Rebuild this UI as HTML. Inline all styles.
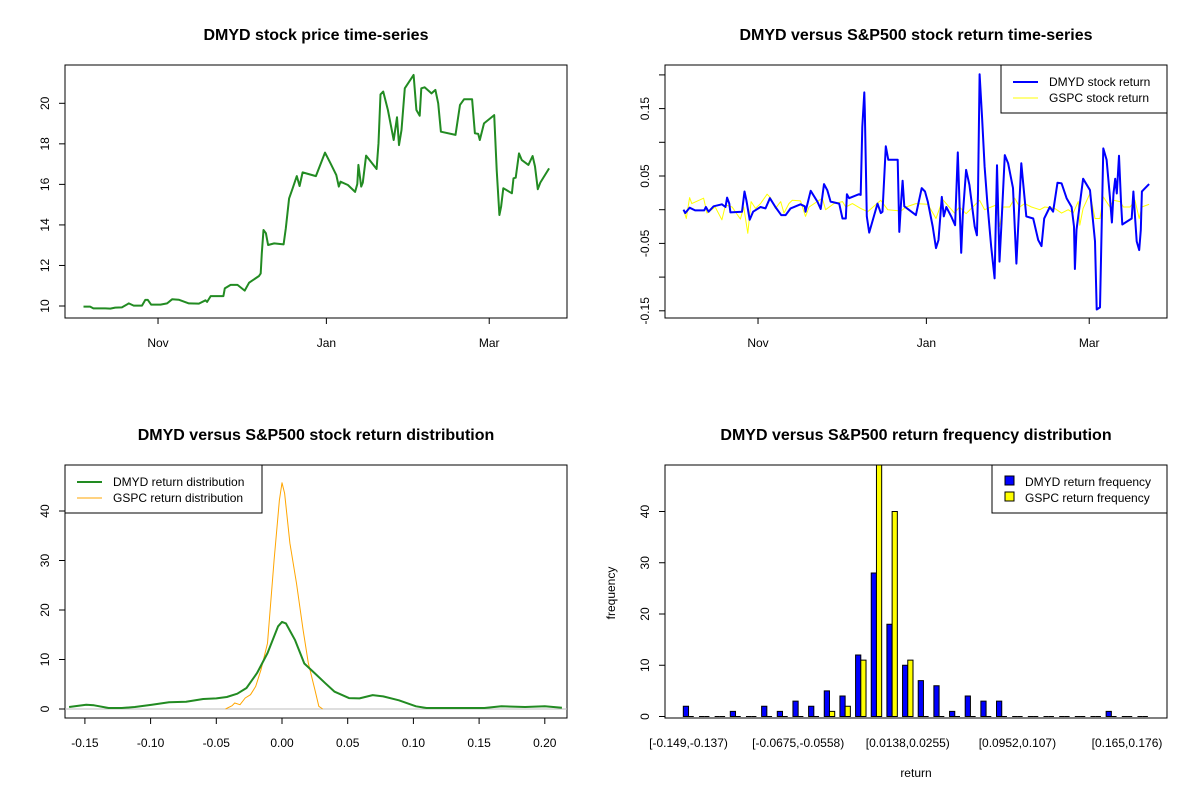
<!DOCTYPE html>
<html><head><meta charset="utf-8">
<style>
body{margin:0;background:#fff;}
svg{display:block;font-family:"Liberation Sans",Arial,sans-serif;}
.t{font-size:16px;font-weight:bold;text-anchor:middle;}
.l{font-size:12px;}
</style></head>
<body>
<svg id="c" width="1200" height="800" viewBox="0 0 1200 800" xmlns="http://www.w3.org/2000/svg">
<rect width="1200" height="800" fill="#fff"/>
<text class="t" x="316" y="40">DMYD stock price time-series</text>
<text class="t" x="916" y="40">DMYD versus S&amp;P500 stock return time-series</text>
<text class="t" x="316" y="440">DMYD versus S&amp;P500 stock return distribution</text>
<text class="t" x="916" y="440">DMYD versus S&amp;P500 return frequency distribution</text>
<g id="g1"></g>
<g id="g2"></g>
<g id="g3"></g>
<g id="g4"></g>
</svg>
<script>
// ---- data: days since 2020-10-05 ----
const priceDays=[0,2.4,3.6,7.9,9.7,11.5,13.9,16.4,18.2,21.2,22.4,23.3,24.5,27.9,30.3,32.1,34.5,38.2,41.8,44.2,44.8,46.1,50.7,51.2,53.3,55.8,58.4,60.0,63.6,64.2,64.6,65.2,66.1,66.9,69.1,72.5,73.3,74.5,75.8,77.3,78.3,79.4,84.2,87.5,89.5,91.6,92.5,93.1,95.8,98.4,99.2,99.6,100.6,101.2,102.4,106.2,106.9,107.6,108.6,110.3,112.4,113.6,114.3,115.2,116.4,119.6,120.6,121.8,122.4,123.6,126.1,127.5,128.5,129.5,134.8,136.4,137.9,140.8,141.8,143.0,143.6,144.5,145.1,148.8,149.7,150.7,151.3,152.1,155.2,155.8,156.6,157.8,158.8,161.2,162.7,163.6,164.6,165.5,168.7];
const priceVals=[9.97,9.97,9.88,9.88,9.87,9.92,9.93,10.13,10.02,10.02,10.30,10.30,10.07,10.07,10.13,10.33,10.31,10.13,10.12,10.28,10.20,10.49,10.49,10.87,11.04,11.04,10.76,11.15,11.48,11.61,12.60,13.75,13.59,13.01,13.09,13.04,13.83,15.31,15.81,16.41,15.92,16.59,16.41,17.57,17.04,16.46,15.89,16.13,15.97,15.63,16.02,16.96,15.89,16.09,17.42,16.76,18.03,20.44,20.58,19.67,18.19,19.31,17.94,18.68,20.74,21.40,19.67,19.39,20.74,20.79,20.49,20.66,20.0,18.60,18.44,19.92,20.20,20.20,18.52,18.49,18.19,18.68,19.01,19.42,16.71,14.49,14.90,15.81,15.56,16.30,16.33,17.53,17.20,16.96,17.40,16.88,15.76,16.09,16.79];
const dateTickDays=[27,88,147];
const dateTickLabels=["Nov","Jan","Mar"];
const priceTicks=[10,12,14,16,18,20];

const dmydDays=[0,0.6,2.2,4.2,7.5,8.1,9.1,10.9,13.9,15.2,15.8,16.6,17.0,21.2,22.1,22.8,24.0,25.2,27.9,29.7,31.3,33.3,35.4,37.0,38.8,42.4,43.9,44.2,46.1,48.5,49.7,50.9,52.1,53.3,56.4,57.6,58.8,59.2,60.0,63.6,64.2,64.8,65.5,65.7,66.4,67.3,70.3,71.5,72.1,73.3,74.2,77.6,78.2,78.8,79.4,80.0,84.2,86.3,87.5,88.5,90.3,91.5,92.4,93.6,94.3,95.2,97.0,98.4,99.4,100.6,101.2,102.4,103.6,105.5,106.3,106.7,107.3,108.2,109.1,110.1,111.5,112.7,113.6,114.5,115.2,116.4,117.6,119.4,120.6,122.4,123.0,124.2,126.7,128.5,129.7,130.7,132.7,133.9,135.5,137.0,138.8,140.6,141.5,141.8,142.4,144.8,147.3,149.1,149.7,150.9,152.1,153.3,154.5,155.2,155.8,156.4,157.0,157.8,158.5,159.0,162.4,163.0,163.6,164.2,165.1,165.7,166.1,168.7];
const dmydRet=[0.000,-0.005,0.003,-0.001,-0.001,0.004,-0.003,0.005,0.008,0.004,0.018,0.009,-0.004,-0.003,0.027,0.014,-0.015,-0.003,0.004,0.002,0.017,0.004,-0.008,-0.008,0.002,0.008,0.005,-0.003,0.028,0.012,0.001,0.038,0.029,0.012,0.009,-0.013,-0.013,0.023,0.017,0.023,0.022,0.123,0.174,0.148,-0.010,-0.034,0.009,-0.005,-0.003,0.094,0.074,0.074,-0.033,0.009,0.043,0.005,-0.008,0.032,0.027,0.012,-0.025,-0.057,-0.045,0.019,-0.010,0.004,-0.010,-0.023,0.085,-0.064,-0.008,0.059,0.037,-0.025,-0.038,0.024,0.201,0.136,0.064,0.009,-0.055,-0.102,0.066,-0.077,-0.020,0.081,0.069,0.032,-0.080,0.069,0.042,-0.010,-0.013,-0.045,-0.054,-0.013,0.004,-0.003,0.040,0.039,0.017,0.004,-0.025,-0.088,-0.030,0.046,0.029,-0.047,-0.148,-0.145,0.091,0.074,0.019,-0.019,0.024,0.046,0.024,0.080,0.012,-0.022,-0.013,0.027,-0.010,-0.047,-0.060,-0.030,0.027,0.038];
const gspcDays=[0,1.0,2.2,3.0,7.3,8.5,11.5,13.9,15.2,17.6,20.6,21.8,23.3,24.5,26.1,27.9,30.3,31.5,33.3,35.2,36.4,38.2,39.4,42.4,44.2,45.5,50.3,51.5,54.5,57.6,58.8,61.2,64.2,66.7,71.5,74.0,78.8,80.6,84.2,88.5,91.5,93.9,98.2,100.0,102.4,104.8,107.3,109.1,111.5,113.3,114.5,115.8,118.2,120.0,121.8,123.6,126.1,129.1,130.9,134.5,137.0,139.4,141.2,143.0,143.6,144.8,147.3,149.1,150.9,152.1,154.5,155.8,158.2,159.4,161.8,163.6,165.1,166.1,168.7];
const gspcRet=[0.000,-0.013,0.018,0.009,0.017,-0.005,0.004,-0.015,0.007,0.004,-0.014,0.004,-0.035,0.012,0.002,0.009,0.023,0.018,0.002,0.012,-0.005,0.009,0.014,0.013,-0.010,0.004,0.017,0.000,0.009,0.012,0.004,0.009,0.002,-0.003,0.014,0.000,-0.002,0.004,0.009,0.008,-0.013,0.015,-0.005,0.004,-0.006,0.004,0.014,0.000,0.004,0.007,-0.025,0.004,0.004,0.017,0.004,0.009,0.004,0.000,0.004,0.002,-0.005,0.000,-0.005,0.012,-0.023,0.002,0.024,-0.013,-0.013,0.019,0.004,0.014,0.012,0.004,0.004,0.014,-0.013,0.004,0.008];
const retTicks=[-0.15,-0.10,-0.05,0,0.05,0.10,0.15,0.20];
const retTickLabels=["-0.15","","-0.05","","0.05","","0.15",""];

const densX=[-0.162,-0.149,-0.143,-0.132,-0.122,-0.112,-0.099,-0.086,-0.073,-0.060,-0.050,-0.042,-0.034,-0.027,-0.019,-0.011,-0.003,0.000,0.003,0.010,0.017,0.025,0.033,0.040,0.051,0.059,0.069,0.077,0.089,0.102,0.110,0.154,0.167,0.185,0.200,0.213];
const densDmyd=[0.40,0.87,0.74,0.20,0.20,0.40,0.87,1.35,1.48,2.02,2.15,2.42,3.09,4.24,7.26,11.3,16.7,17.6,17.3,13.9,9.2,7.2,5.2,3.5,2.2,2.15,2.8,2.55,1.75,0.54,0.20,0.20,0.54,0.40,0.54,0.27];
const gDensX=[-0.043,-0.038,-0.036,-0.032,-0.028,-0.024,-0.020,-0.016,-0.011,-0.006,-0.002,0.000,0.002,0.006,0.011,0.016,0.020,0.025,0.028,0.031];
const densGspc=[0,0.67,1.21,0.87,2.22,2.89,4.57,7.94,13.3,30.1,42.2,45.7,43.6,33.5,25.4,16.1,9.3,3.9,0.54,0];
const densXTicks=[-0.15,-0.10,-0.05,0,0.05,0.10,0.15,0.20];
const densXLabels=["-0.15","-0.10","-0.05","0.00","0.05","0.10","0.15","0.20"];
const densYTicks=[0,10,20,30,40];

const binLabels=["[-0.149,-0.137)","","","","","","","[-0.0675,-0.0558)","","","","","","","[0.0138,0.0255)","","","","","","","[0.0952,0.107)","","","","","","","[0.165,0.176)",""];
const freqDmyd=[2,0,0,1,0,2,1,3,2,5,4,12,28,18,10,7,6,1,4,3,3,0,0,0,0,0,0,1,0,0];
const freqGspc=[0,0,0,0,0,0,0,0,0,1,2,11,52,40,11,0,0,0,0,0,0,0,0,0,0,0,0,0,0,0];
const freqTicks=[0,10,20,30,40];

// ---- helpers ----
const NS="http://www.w3.org/2000/svg";
function mk(p,tag,at,txt){const e=document.createElementNS(NS,tag);for(const k in at)e.setAttribute(k,at[k]);if(txt!==undefined)e.textContent=txt;p.appendChild(e);return e;}
function poly(p,xs,ys,sx,sy,color,w){let d="";for(let i=0;i<xs.length;i++)d+=(i?"L":"M")+sx(xs[i]).toFixed(1)+","+sy(ys[i]).toFixed(1);return mk(p,"path",{d:d,fill:"none",stroke:color,"stroke-width":w,"stroke-linejoin":"round"});}
function box(p,x0,y0,x1,y1){return mk(p,"rect",{x:x0,y:y0,width:x1-x0,height:y1-y0,fill:"none",stroke:"#000","stroke-width":1});}
function yAxis(p,x,ticks,labels,sy){for(let i=0;i<ticks.length;i++){const y=sy(ticks[i]);const t=mk(p,"line",{x1:x,x2:x-6,y1:y,y2:y,stroke:"#000"});


if(labels[i]){const l=mk(p,"text",{class:"l",x:x-16,y:y,"text-anchor":"middle",transform:`rotate(-90 ${x-16} ${y})`},labels[i]);

}}}
function xAxis(p,y,ticks,labels,sx,ly){for(let i=0;i<ticks.length;i++){const x=sx(ticks[i]);const t=mk(p,"line",{x1:x,x2:x,y1:y,y2:y+6,stroke:"#000"});


const l=mk(p,"text",{class:"l",x:x,y:ly,"text-anchor":"middle"},labels[i]);

}}

// ---- panel 1 price ----
(function(){const g=document.getElementById("g1");
const sx=d=>83.5+d*2.76, sy=v=>306-(v-10)*20.27;
box(g,65,65,567,318);
const ln=poly(g,priceDays,priceVals,sx,sy,"#228B22",2);


yAxis(g,65,priceTicks,priceTicks.map(String),sy);
xAxis(g,318,dateTickDays,dateTickLabels,sx,347);})();

// ---- panel 2 returns ----
(function(){const g=document.getElementById("g2");
const sx=d=>683.5+d*2.76, sy=v=>209.7-v*674;
box(g,665,65,1167,318);
const l2=poly(g,gspcDays,gspcRet,sx,sy,"#ffff00",1);


const l1=poly(g,dmydDays,dmydRet,sx,sy,"#0000ff",2);


yAxis(g,665,retTicks,retTickLabels,sy);
xAxis(g,318,dateTickDays,dateTickLabels,sx,347);
const lg=mk(g,"g",{});


mk(lg,"rect",{x:1001,y:65,width:166,height:48,fill:"#fff",stroke:"#000"});
mk(lg,"line",{x1:1013,x2:1038,y1:82,y2:82,stroke:"#0000ff","stroke-width":2});
mk(lg,"line",{x1:1013,x2:1038,y1:98,y2:98,stroke:"#ffff00","stroke-width":1});
mk(lg,"text",{class:"l",x:1049,y:86},"DMYD stock return");
mk(lg,"text",{class:"l",x:1049,y:102},"GSPC stock return");})();

// ---- panel 3 density ----
(function(){const g=document.getElementById("g3");
const sx=v=>282+v*1314, sy=v=>709-v*4.95;
box(g,65,465,567,718);
const base=mk(g,"line",{x1:65,x2:567,y1:sy(0),y2:sy(0),stroke:"#bebebe"});


const lo=poly(g,gDensX,densGspc,sx,sy,"#FFA500",1);


const lgn=poly(g,densX,densDmyd,sx,sy,"#228B22",2);


yAxis(g,65,densYTicks,densYTicks.map(String),sy);
xAxis(g,718,densXTicks,densXLabels,sx,747);
const lg=mk(g,"g",{});


mk(lg,"rect",{x:65,y:465,width:197,height:48,fill:"#fff",stroke:"#000"});
mk(lg,"line",{x1:77,x2:102,y1:482,y2:482,stroke:"#228B22","stroke-width":2});
mk(lg,"line",{x1:77,x2:102,y1:498,y2:498,stroke:"#FFA500","stroke-width":1});
mk(lg,"text",{class:"l",x:113,y:486},"DMYD return distribution");
mk(lg,"text",{class:"l",x:113,y:502},"GSPC return distribution");})();

// ---- panel 4 histogram ----
(function(){const g=document.getElementById("g4");
const u=5.22, x0=678.1, base=716.5;
const sx=k=>x0+k*u, sy=v=>Math.max(465,base-v*5.125);
const clip=mk(g,"clipPath",{id:"hc"});mk(clip,"rect",{x:665,y:465,width:502,height:253});
const bars=mk(g,"g",{"clip-path":"url(#hc)"});
function bar(k,v,col){
 if(v>0){return mk(bars,"rect",{x:sx(k),y:sy(v),width:u,height:base-sy(v),fill:col,stroke:"#000","stroke-width":1});}
 return mk(bars,"line",{x1:sx(k),x2:sx(k)+u,y1:base,y2:base,stroke:"#000","stroke-width":1});
}
for(let i=0;i<freqDmyd.length;i++){
 const b=bar(1+3*i,freqDmyd[i],"#0000ff");
 
 
 const c=bar(2+3*i,freqGspc[i],"#ffff00");
 
 
 if(binLabels[i]){const l=mk(g,"text",{class:"l",x:sx(2+3*i),y:747,"text-anchor":"middle"},binLabels[i]);
 
 }
}
box(g,665,465,1167,718);
yAxis(g,665,freqTicks,freqTicks.map(String),v=>base-v*5.125);
const xt=mk(g,"text",{class:"l",x:916,y:777,"text-anchor":"middle"},"return");


const yt=mk(g,"text",{class:"l",x:615,y:593,"text-anchor":"middle",transform:"rotate(-90 615 593)"},"frequency");


const lg=mk(g,"g",{});


mk(lg,"rect",{x:992,y:465,width:175,height:48,fill:"#fff",stroke:"#000"});
mk(lg,"rect",{x:1005,y:476,width:9,height:9,fill:"#0000ff",stroke:"#000"});
mk(lg,"rect",{x:1005,y:492,width:9,height:9,fill:"#ffff00",stroke:"#000"});
mk(lg,"text",{class:"l",x:1025,y:486},"DMYD return frequency");
mk(lg,"text",{class:"l",x:1025,y:502},"GSPC return frequency");})();
</script>
</body></html>
